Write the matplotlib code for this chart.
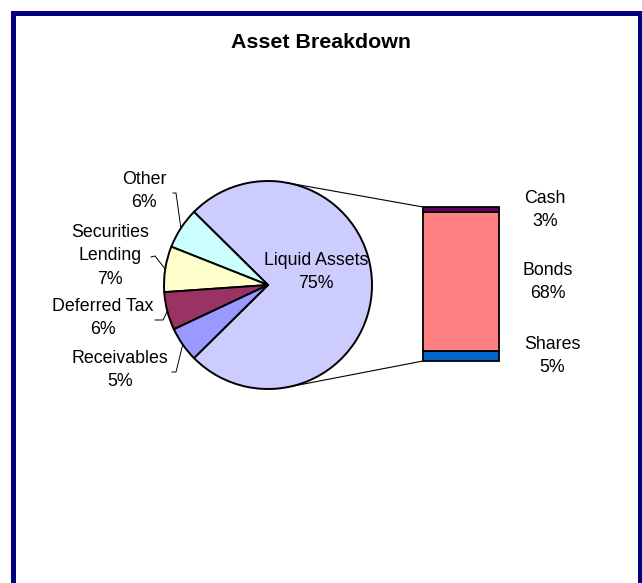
import matplotlib

matplotlib.use("Agg")
import matplotlib.pyplot as plt
import numpy as np

W, H = 642, 583
DPI = 100

# pie slices (percent of total assets)
pie_labels = ["Liquid Assets", "Other", "Securities\nLending", "Deferred Tax", "Receivables"]
pie_values = [75.2, 6.4, 7.1, 5.9, 5.4]
pie_colors = ["#CCCCFF", "#CCFFFF", "#FFFFCC", "#993366", "#9999FF"]

# breakdown of the liquid assets slice (bottom to top)
bar_labels = ["Shares", "Bonds", "Cash"]
bar_values = [5.0, 67.6, 2.6]
bar_colors = ["#0066CC", "#FF8080", "#660066"]

plt.rcParams["font.family"] = ["Liberation Sans", "DejaVu Sans"]
FS = 12.8
LS = 1.5


def img(x, y):
    """pixel position (y down) -> axes data (y up)"""
    return x, H - y


fig = plt.figure(figsize=(W / DPI, H / DPI), dpi=DPI)
ax = fig.add_axes([0, 0, 1, 1])

cx, cy = img(268, 285)
R = 104
liquid_frac = pie_values[0] / sum(pie_values)
wedges, _ = ax.pie(pie_values, colors=pie_colors, center=(cx, cy), radius=R,
                   startangle=-liquid_frac * 180, counterclock=True,
                   wedgeprops=dict(edgecolor="black", linewidth=1.4))

# bar of the split slice
bar_x, bar_w = 461, 76
bar_top, bar_bot = H - 207, H - 361
scale = (bar_top - bar_bot) / sum(bar_values)
bottoms = bar_bot + scale * np.concatenate([[0], np.cumsum(bar_values)[:-1]])
ax.bar([bar_x] * len(bar_values), np.array(bar_values) * scale, bottom=bottoms,
       width=bar_w, color=bar_colors, edgecolor="black", linewidth=1.3, zorder=3)

# connector lines, tangent from the bar corners to the pie
for yc, sign in [(bar_top, 1), (bar_bot, -1)]:
    px, py = bar_x - bar_w / 2, yc
    d = np.hypot(px - cx, py - cy)
    a = np.arctan2(py - cy, px - cx) + sign * np.arccos(R / d)
    ax.plot([cx + R * np.cos(a), px], [cy + R * np.sin(a), py],
            color="black", lw=0.8, zorder=1)

# pie data labels
ax.text(*img(316, 272), f"{pie_labels[0]}\n{pie_values[0]:.0f}%", fontsize=FS,
        ha="center", va="center", linespacing=LS, zorder=5)
label_pos = [None, (144, 191), (110, 256), (103, 318), (120, 370)]
elbows = [None,
          [(173, 193), (176, 193)],
          [(151, 257), (155, 256)],
          [(155, 320), (163, 320)],
          [(172, 372), (176, 372)]]
for w, lab, v, pos, el in zip(wedges, pie_labels, pie_values, label_pos, elbows):
    if pos is None:
        continue
    ax.text(*img(*pos), f"{lab}\n{v:.0f}%", fontsize=FS, ha="center", va="center",
            linespacing=LS)
    mid = np.deg2rad((w.theta1 + w.theta2) / 2)
    pts = [img(*p) for p in el] + [(cx + R * np.cos(mid), cy + R * np.sin(mid))]
    ax.plot([p[0] for p in pts], [p[1] for p in pts], color="black", lw=0.7)

# bar data labels
bar_label_pos = [(552, 356), (548, 282), (545, 210)]
for lab, v, pos in zip(bar_labels, bar_values, bar_label_pos):
    ax.text(*img(*pos), f"{lab}\n{v:.0f}%", fontsize=FS, ha="center", va="center",
            linespacing=LS)

ax.text(*img(321, 42), "Asset Breakdown", fontsize=15.4, fontweight="bold",
        ha="center", va="center")

# chart area border (bottom edge cut off)
bx = [img(12.5, H + 5), img(12.5, 12.5), img(639.5, 12.5), img(639.5, H + 5)]
ax.plot([p[0] for p in bx], [p[1] for p in bx], color="#000080", lw=3.6,
        solid_joinstyle="miter")

ax.set_xlim(0, W)
ax.set_ylim(0, H)
ax.set_aspect("auto")
ax.axis("off")

fig.savefig("out.png", dpi=DPI)
